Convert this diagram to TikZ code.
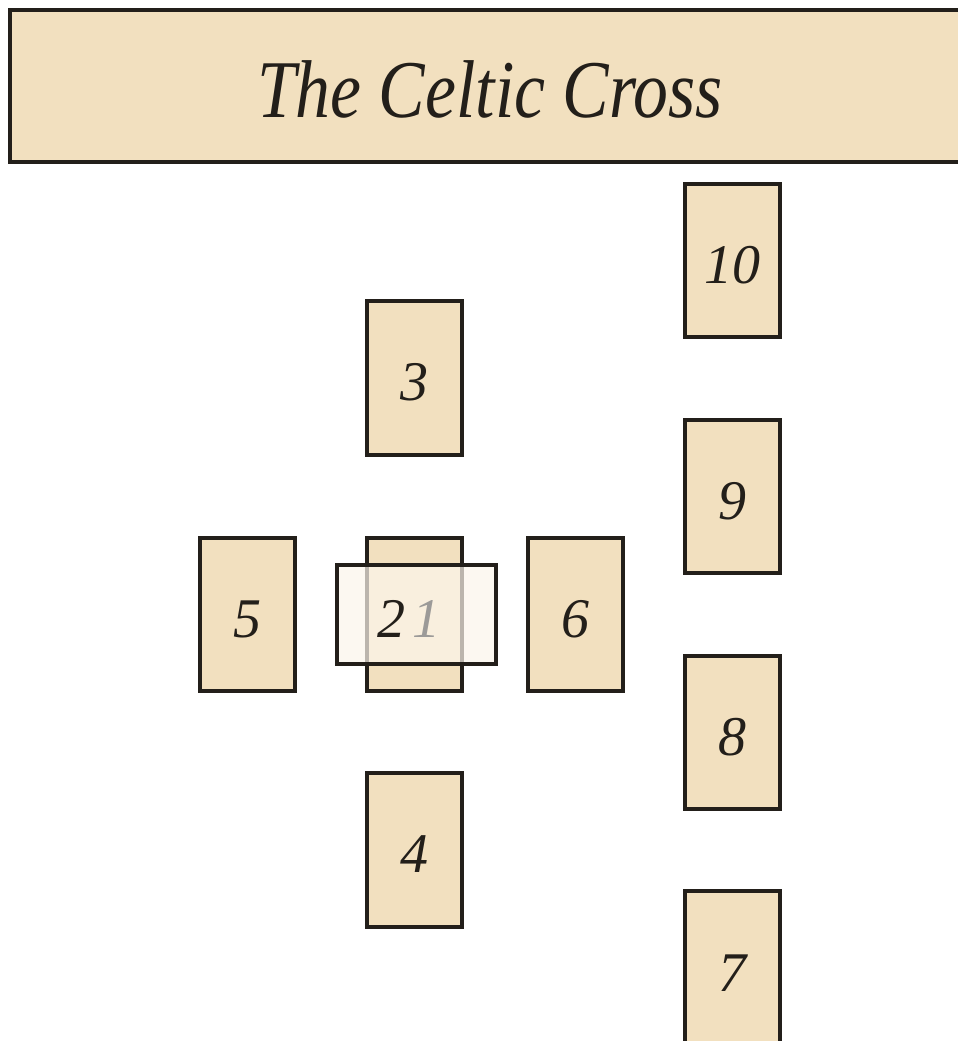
\documentclass[tikz,border=0pt]{standalone}
\usepackage{fontspec}
\setmainfont{Liberation Serif}
\definecolor{cardfill}{HTML}{F2E0BF}
\definecolor{cardline}{HTML}{231F1A}
\definecolor{overfill}{HTML}{FCF6EC}
\begin{document}
\begin{tikzpicture}[x=1pt,y=-1pt,
  card/.style={draw=cardline,line width=4pt,fill=cardfill},
  num/.style={font=\fontsize{56}{62}\selectfont\itshape,text=cardline,inner sep=0pt}]
\useasboundingbox (0,0) rectangle (958,1041);
\fill[white] (0,0) rectangle (958,1041);
\begin{scope}
\clip (0,0) rectangle (958,1041);
% title
\draw[card] (10,10) rectangle (975,162);
\node[inner sep=0pt,text=cardline] (title) at (490,89) {\scalebox{0.85}[1]{\fontsize{82}{90}\selectfont\itshape The Celtic Cross}};
% cards
\draw[card] (685,184) rectangle (780,337);
\node[num] (c10) at (732.5,265) {10};
\draw[card] (367,301) rectangle (462,455);
\node[num] (c3) at (414.5,382) {3};
\draw[card] (685,420) rectangle (780,573);
\node[num] (c9) at (732.5,501) {9};
\draw[card] (200,538) rectangle (295,691);
\node[num] (c5) at (247.5,619) {5};
\draw[card] (367,538) rectangle (462,691);
\draw[card] (528,538) rectangle (623,691);
\node[num] (c6) at (575.5,619) {6};
\draw[card] (685,656) rectangle (780,809);
\node[num] (c8) at (732.5,737) {8};
\draw[card] (367,773) rectangle (462,927);
\node[num] (c4) at (414.5,854) {4};
\draw[card] (685,891) rectangle (780,1060);
\node[num] (c7) at (732.5,973) {7};
% card 1 crosswise, translucent
\draw[draw=cardline,line width=4pt,fill=overfill,fill opacity=0.7] (337,565) rectangle (496,664);
\node[num] (c2) at (391,619) {2};
\node[num,text=cardline!45] (c1) at (426,619) {1};
\end{scope}
\end{tikzpicture}
\end{document}
